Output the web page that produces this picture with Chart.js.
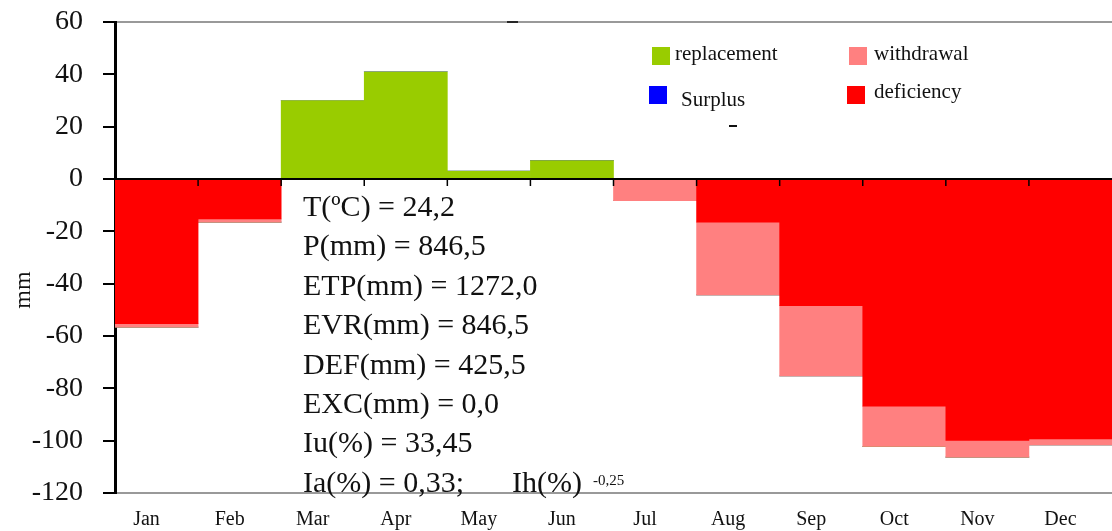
<!DOCTYPE html>
<html>
<head>
<meta charset="utf-8">
<script src="https://cdn.jsdelivr.net/npm/chart.js@4.4.0/dist/chart.umd.min.js"></script>
<style>
  html, body { margin: 0; padding: 0; background: #fff; }
  #wrap { width: 1112px; height: 531px; }
</style>
</head>
<body>
<div id="wrap"><canvas id="balance_chart"></canvas></div>
<script>
const months = ["Jan","Feb","Mar","Apr","May","Jun","Jul","Aug","Sep","Oct","Nov","Dec"];
// mm
const deficiency  = [-55.3, -15.3, 0, 0, 0, 0, 0, -16.5, -48.4, -86.8, -99.9, -99.3];
const withdrawal  = [-1.3, -1.2, 0, 0, 0, 0, -8.3, -27.8, -26.9, -15.4, -6.4, -2.3];
const replacement = [0, 0, 30, 41, 3, 7, 0, 0, 0, 0, 0, 0];
const surplus     = [0, 0, 0, 0, 0, 0, 0, 0, 0, 0, 0, 0];
const yTicks = [-120, -100, -80, -60, -40, -20, 0, 20, 40, 60];

const statLines = [
  "T(\u00BAC) = 24,2",
  "P(mm) = 846,5",
  "ETP(mm) = 1272,0",
  "EVR(mm) = 846,5",
  "DEF(mm) = 425,5",
  "EXC(mm) = 0,0",
  "Iu(%) = 33,45",
  "Ia(%) = 0,33;"
];

const SERIF = "'Liberation Serif', 'Times New Roman', serif";

// zero line with its small ticks, the stats box and the legend
const overlay = {
  id: "overlay",
  afterDatasetsDraw(chart) {
    const ctx = chart.ctx;
    const x = chart.scales.x;
    const y = chart.scales.y;
    const y0 = y.getPixelForValue(0);
    ctx.save();
    ctx.strokeStyle = "#000";
    ctx.lineWidth = 2;
    ctx.beginPath();
    ctx.moveTo(chart.chartArea.left, y0);
    ctx.lineTo(chart.chartArea.right, y0);
    ctx.stroke();
    ctx.lineWidth = 1.5;
    for (let i = 1; i < months.length; i++) {
      const px = (x.getPixelForValue(i - 1) + x.getPixelForValue(i)) / 2;
      ctx.beginPath();
      ctx.moveTo(px, y0);
      ctx.lineTo(px, y0 + 7);
      ctx.stroke();
    }
    // dark speck on the top border
    ctx.beginPath();
    ctx.moveTo(507, y.getPixelForValue(60));
    ctx.lineTo(518, y.getPixelForValue(60));
    ctx.stroke();
    ctx.restore();
  },
  afterDraw(chart) {
    const ctx = chart.ctx;
    ctx.save();
    ctx.fillStyle = "#111";
    ctx.textBaseline = "alphabetic";
    ctx.font = "30px " + SERIF;
    statLines.forEach((t, i) => ctx.fillText(t, 303, 216 + i * 39.4));
    ctx.fillText("Ih(%)", 512, 216 + 7 * 39.4);
    ctx.font = "15px " + SERIF;
    ctx.fillText("-0,25", 593, 485);

    // "mm" axis title
    ctx.save();
    ctx.translate(30, 290);
    ctx.rotate(-Math.PI / 2);
    ctx.font = "24px " + SERIF;
    ctx.textAlign = "center";
    ctx.fillText("mm", 0, 0);
    ctx.restore();

    // legend
    const ds = chart.data.datasets;
    const items = [
      { d: ds[2], bx: 652, by: 47, tx: 675, ty: 60 },
      { d: ds[1], bx: 849, by: 47, tx: 874, ty: 60 },
      { d: ds[3], bx: 649, by: 86, tx: 681, ty: 106 },
      { d: ds[0], bx: 847, by: 86, tx: 874, ty: 98 }
    ];
    ctx.font = "21px " + SERIF;
    items.forEach(it => {
      ctx.fillStyle = it.d.backgroundColor;
      ctx.fillRect(it.bx, it.by, 18, 18);
      ctx.fillStyle = "#111";
      ctx.fillText(it.d.label, it.tx, it.ty);
    });
    ctx.fillRect(729, 125, 8, 2);
    ctx.restore();
  }
};

new Chart("balance_chart", {
  type: "bar",
  data: {
    labels: months,
    datasets: [{
      label: "deficiency",
      data: deficiency,
      backgroundColor: "#ff0000"
    }, {
      label: "withdrawal",
      data: withdrawal,
      backgroundColor: "#ff8080"
    }, {
      label: "replacement",
      data: replacement,
      backgroundColor: "#99cc00"
    }, {
      label: "Surplus",
      data: surplus,
      backgroundColor: "#0000ff"
    }]
  },
  options: {
    responsive: true,
    maintainAspectRatio: false,
    animation: false,
    barPercentage: 1,
    categoryPercentage: 1,
    elements: { bar: { borderWidth: 0 } },
    layout: { padding: { top: 22, right: 0, bottom: 0, left: 0 } },
    plugins: {
      legend: { display: false },
      tooltip: { enabled: false }
    },
    scales: {
      x: {
        stacked: true,
        grid: { display: false, drawTicks: false },
        border: { display: true, color: "#999", width: 2 },
        ticks: { color: "#111", padding: 15, labelOffset: -10, font: { family: SERIF, size: 20 } },
        afterFit(scale) { scale.height = 38; }
      },
      y: {
        stacked: true,
        min: -120,
        max: 60,
        afterBuildTicks(scale) { scale.ticks = yTicks.map(v => ({ value: v })); },
        grid: {
          color: c => c.tick && c.tick.value === 60 ? "#999" : "transparent",
          lineWidth: 2,
          tickColor: "#000",
          tickLength: 12
        },
        border: { display: true, color: "#000", width: 3 },
        ticks: { color: "#111", padding: 20, font: { family: SERIF, size: 28 } },
        afterFit(scale) {
          scale.width = 115;
          scale.paddingTop = 0;
          scale.paddingBottom = 0;
        }
      }
    }
  },
  plugins: [overlay]
});
</script>
</body>
</html>
